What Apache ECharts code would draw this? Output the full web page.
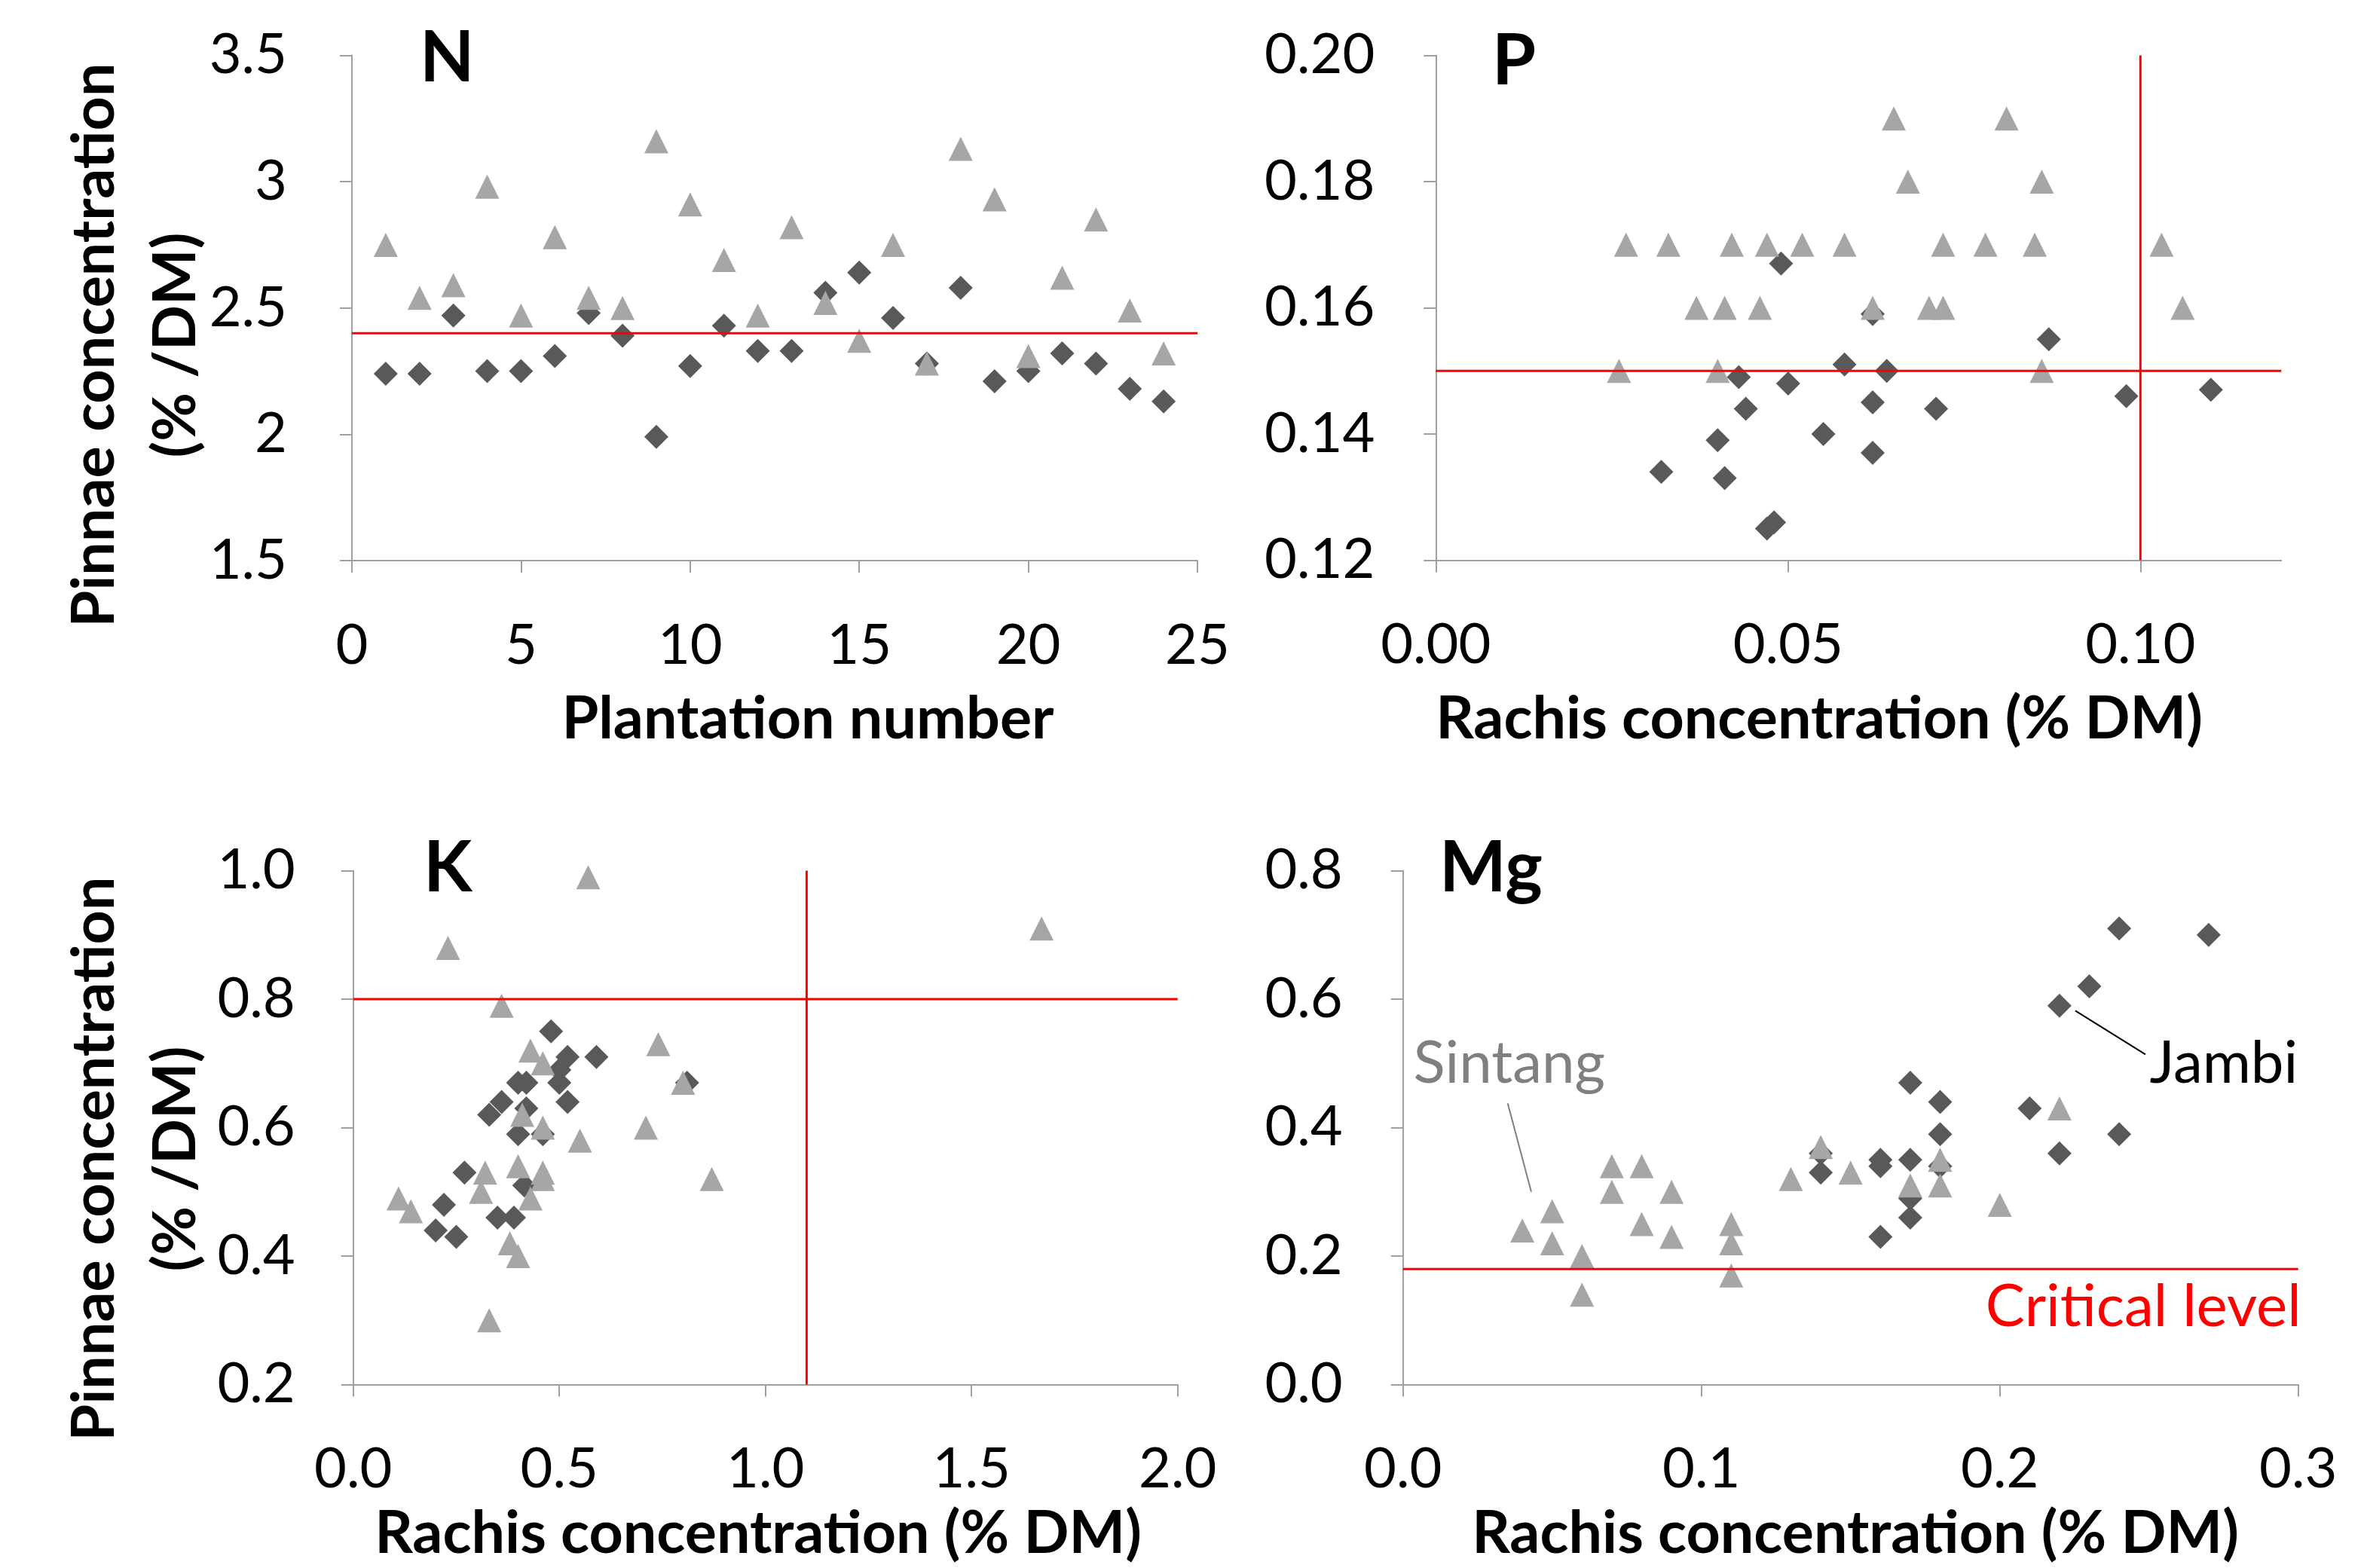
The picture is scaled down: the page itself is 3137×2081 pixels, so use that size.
<!DOCTYPE html>
<html><head><meta charset="utf-8">
<script src="https://cdn.jsdelivr.net/npm/echarts@6/dist/echarts.min.js"></script>
<style>html,body{margin:0;padding:0;background:#fff}#c{width:3137px;height:2081px}</style>
</head><body><div id="c"></div>
<script>
// ---------------- DATA ----------------
const plantationNumbers = [1,2,3,4,5,6,7,8,9,10,11,12,13,14,15,16,17,18,19,20,21,22,23,24];
const nJambi   = [2.24,2.24,2.47,2.25,2.25,2.31,2.48,2.39,1.99,2.27,2.43,2.33,2.33,2.56,2.64,2.46,2.28,2.58,2.21,2.25,2.32,2.28,2.18,2.13];
const nSintang = [2.75,2.54,2.59,2.98,2.47,2.78,2.54,2.50,3.16,2.91,2.69,2.47,2.82,2.52,2.37,2.75,2.28,3.13,2.93,2.31,2.62,2.85,2.49,2.32];

const pJambiRachis  = [0.049,0.043,0.050,0.044,0.055,0.040,0.032,0.041,0.047,0.048,0.058,0.062,0.062,0.062,0.064,0.071,0.087,0.098,0.110];
const pJambiPinnae  = [0.167,0.149,0.148,0.144,0.140,0.139,0.134,0.133,0.125,0.126,0.151,0.159,0.145,0.137,0.150,0.144,0.155,0.146,0.147];
const pSintangRachis = [0.027,0.033,0.042,0.047,0.052,0.058,0.072,0.078,0.085,0.103,0.037,0.041,0.046,0.062,0.070,0.072,0.106,0.026,0.040,0.086,0.067,0.086,0.065,0.081];
const pSintangPinnae = [0.17,0.17,0.17,0.17,0.17,0.17,0.17,0.17,0.17,0.17,0.16,0.16,0.16,0.16,0.16,0.16,0.16,0.15,0.15,0.15,0.18,0.18,0.19,0.19];

const kJambiRachis  = [0.48,0.52,0.59,0.50,0.50,0.40,0.42,0.81,0.52,0.36,0.33,0.42,0.40,0.46,0.27,0.415,0.22,0.35,0.39,0.20,0.25];
const kJambiPinnae  = [0.75,0.71,0.71,0.69,0.67,0.67,0.67,0.67,0.64,0.64,0.62,0.63,0.59,0.59,0.53,0.51,0.48,0.46,0.46,0.44,0.43];
const kSintangRachis = [0.57,0.23,0.36,0.74,0.43,0.46,0.80,0.41,0.46,0.71,0.55,0.87,0.32,0.40,0.46,0.46,0.31,0.43,0.11,0.14,0.38,0.40,0.33,1.67];
const kSintangPinnae = [0.99,0.88,0.79,0.73,0.72,0.70,0.67,0.62,0.60,0.60,0.58,0.52,0.53,0.54,0.53,0.52,0.50,0.49,0.49,0.47,0.42,0.40,0.30,0.91];

const mgJambiRachis  = [0.24,0.27,0.23,0.22,0.17,0.18,0.21,0.18,0.24,0.22,0.16,0.16,0.17,0.18,0.17,0.17,0.16,0.14,0.14];
const mgJambiPinnae  = [0.71,0.70,0.62,0.59,0.47,0.44,0.43,0.39,0.39,0.36,0.35,0.34,0.35,0.34,0.29,0.26,0.23,0.33,0.36];
const mgSintangRachis = [0.04,0.05,0.05,0.06,0.06,0.07,0.07,0.08,0.08,0.09,0.09,0.11,0.11,0.11,0.13,0.14,0.15,0.17,0.18,0.18,0.20,0.22];
const mgSintangPinnae = [0.24,0.27,0.22,0.20,0.14,0.34,0.30,0.34,0.25,0.30,0.23,0.25,0.22,0.17,0.32,0.37,0.33,0.31,0.35,0.31,0.28,0.43];

// critical levels [rachis, pinnae] (null = none)
const criticalN  = [null, 2.4];
const criticalP  = [0.10, 0.15];
const criticalK  = [1.1, 0.8];
const criticalMg = [null, 0.18];

const pRachisTicks = [0, 0.05, 0.1];

const panelLetters = ['N','P','K','Mg'];
const yTitleLines = ['Pinnae concentration','(% /DM)'];
const xTitles = ['Plantation number','Rachis concentration (% DM)','Rachis concentration (% DM)','Rachis concentration (% DM)'];

// ------------- helpers ---------------
const zip = (a,b) => a.map((v,i)=>[v,b[i]]);
const FONT = 'Lato, "Open Sans", sans-serif';
const AX = '#A0A0A0';
const JAMBI_C = '#595959', SINTANG_C = '#A6A6A6', RED = '#FF0000';

const grids = [
  {left:467, top:73.4, width:1122, height:670.6},
  {left:1905.3, top:73.4, width:1122, height:670},
  {left:468.7, top:1155.6, width:1094, height:682},
  {left:1861.7, top:1155.6, width:1188, height:682}
];
const xRanges = [[0,25,5,0],[0,0.12,0.05,2],[0,2,0.5,1],[0,0.3,0.1,1]];
const yRanges = [[1.5,3.5,0.5,-1],[0.12,0.20,0.02,2],[0.2,1.0,0.2,1],[0,0.8,0.2,1]];
const yLabelMargin = [86,81,77,80];

function fmt(d){ return d < 0 ? (v => String(+(+v).toFixed(2))) : (v => (+v).toFixed(d)); }

const xAxes = xRanges.map((r,i)=>{
  const o = {
    gridIndex:i, type:'value', min:r[0], max:r[1], interval:r[2],
    axisLine:{show:true, onZero:false, lineStyle:{color:AX, width:2}},
    axisTick:{show:true, inside:false, length:16, lineStyle:{color:AX, width:2}},
    splitLine:{show:false},
    axisLabel:{fontSize:74, fontFamily:FONT, color:'#000', margin:76, formatter:fmt(r[3])}
  };
  if (i===1) {
    o.axisLabel.customValues = pRachisTicks;
    o.axisTick.customValues = pRachisTicks;
  }
  return o;
});
const yAxes = yRanges.map((r,i)=>({
  gridIndex:i, type:'value', min:r[0], max:r[1], interval:r[2],
  axisLine:{show:true, onZero:false, lineStyle:{color:AX, width:2}},
  axisTick:{show:true, inside:false, length:16, lineStyle:{color:AX, width:2}},
  splitLine:{show:false},
  axisLabel:{fontSize:74, fontFamily:FONT, color:'#000', margin:yLabelMargin[i], formatter:fmt(r[3])}
}));

const panelData = [
  [zip(plantationNumbers,nJambi), zip(plantationNumbers,nSintang)],
  [zip(pJambiRachis,pJambiPinnae), zip(pSintangRachis,pSintangPinnae)],
  [zip(kJambiRachis,kJambiPinnae), zip(kSintangRachis,kSintangPinnae)],
  [zip(mgJambiRachis,mgJambiPinnae), zip(mgSintangRachis,mgSintangPinnae)]
];
const criticals = [criticalN, criticalP, criticalK, criticalMg];

const series = [];
panelData.forEach((pd,i)=>{
  series.push({type:'scatter', name:'Jambi', xAxisIndex:i, yAxisIndex:i, data:pd[0],
    symbol:'diamond', symbolSize:32, itemStyle:{color:JAMBI_C, opacity:1}, z:2, silent:true});
  series.push({type:'scatter', name:'Sintang', xAxisIndex:i, yAxisIndex:i, data:pd[1],
    symbol:'triangle', symbolSize:32, itemStyle:{color:SINTANG_C, opacity:1}, z:3, silent:true});
  const c = criticals[i];
  if (c[1] !== null) series.push({type:'line', xAxisIndex:i, yAxisIndex:i,
    data:[[xRanges[i][0],c[1]],[xRanges[i][1],c[1]]], showSymbol:false, symbol:'none',
    lineStyle:{color:RED, width:3}, z:4, silent:true});
  if (c[0] !== null) series.push({type:'line', xAxisIndex:i, yAxisIndex:i,
    data:[[c[0],yRanges[i][0]],[c[0],yRanges[i][1]]], showSymbol:false, symbol:'none',
    lineStyle:{color:RED, width:3}, z:4, silent:true});
});

function txt(x,y,text,font,color,align,rot){
  return {type:'text', x:x, y:y, rotation:rot||0, silent:true, z:10,
    style:{text:text, font:font, fill:color, align:align, textAlign:align, verticalAlign:'middle', textVerticalAlign:'middle'}};
}
const BOLD_T = 'bold 79px ' + FONT;
const LETTER = 'bold 94px ' + FONT;
const graphics = [
  txt(557,78,panelLetters[0],LETTER,'#000','left'),
  txt(1980,82,panelLetters[1],LETTER,'#000','left'),
  txt(562,1153,panelLetters[2],LETTER,'#000','left'),
  txt(1910,1153,panelLetters[3],LETTER,'#000','left'),
  txt(1072,955,xTitles[0],BOLD_T,'#000','center'),
  txt(2414,955,xTitles[1],BOLD_T,'#000','center'),
  txt(1006,2036,xTitles[2],BOLD_T,'#000','center'),
  txt(2462,2036,xTitles[3],BOLD_T,'#000','center'),
  txt(126,458,yTitleLines[0],BOLD_T,'#000','center',Math.PI/2),
  txt(234,458,yTitleLines[1],BOLD_T,'#000','center',Math.PI/2),
  txt(126,1538,yTitleLines[0],BOLD_T,'#000','center',Math.PI/2),
  txt(234,1538,yTitleLines[1],BOLD_T,'#000','center',Math.PI/2)
];

const chart = echarts.init(document.getElementById('c'), null, {renderer:'canvas'});
chart.setOption({
  backgroundColor:'#fff', animation:false,
  grid: grids.map(g=>Object.assign({containLabel:false, show:false}, g)),
  xAxis:xAxes, yAxis:yAxes, series:series, graphic:graphics
});

// annotations in Mg panel, anchored in data coordinates
const annotations = [
  {text:'Sintang', at:[0.0035,0.50], color:'#808080', align:'left'},
  {text:'Jambi', at:[0.2502,0.50], color:'#000', align:'left'},
  {text:'Critical level', at:[0.301,0.12], color:RED, align:'right'}
];
const leaders = [
  {from:[0.0351,0.438], to:[0.043,0.300], color:'#808080'},
  {from:[0.2253,0.582], to:[0.2488,0.514], color:'#000'}
];
const conv = p => chart.convertToPixel({xAxisIndex:3, yAxisIndex:3}, p);
const extra = graphics.slice();
annotations.forEach(a=>{
  const p = conv(a.at);
  extra.push(txt(p[0],p[1],a.text,'78px '+FONT,a.color,a.align));
});
leaders.forEach(l=>{
  const a = conv(l.from), b = conv(l.to);
  extra.push({type:'line', silent:true, z:10, shape:{x1:a[0],y1:a[1],x2:b[0],y2:b[1]}, style:{stroke:l.color, lineWidth:2}});
});
chart.setOption({graphic:extra}, {replaceMerge:['graphic']});
</script>
</body></html>
